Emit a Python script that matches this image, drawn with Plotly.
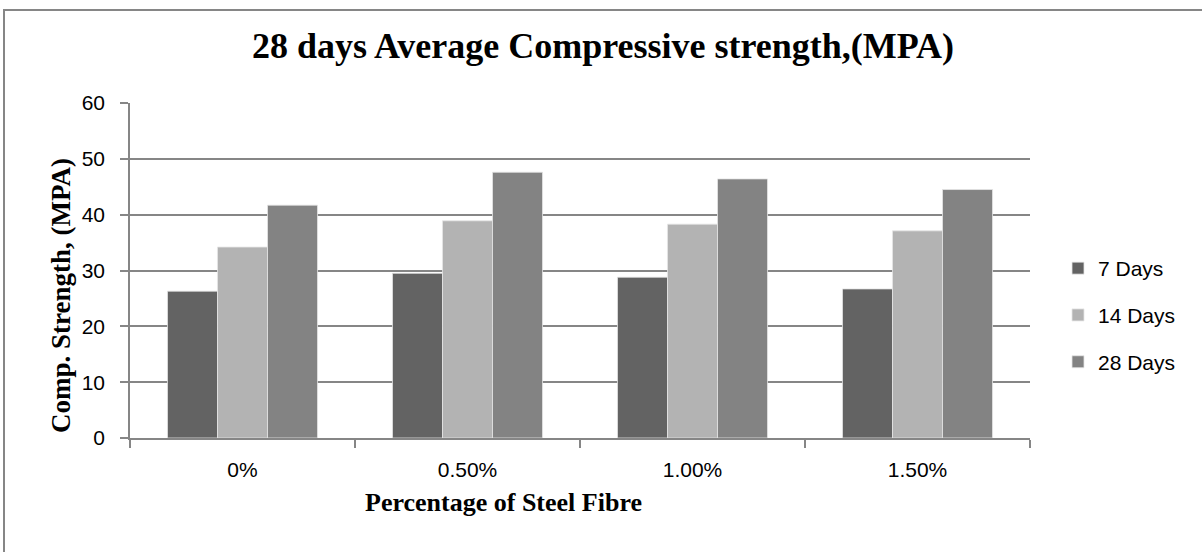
import plotly.graph_objects as go

categories = ["0%", "0.50%", "1.00%", "1.50%"]
series_names = ["7 Days", "14 Days", "28 Days"]
days7 = [26.3, 29.5, 28.8, 26.7]
days14 = [34.2, 38.9, 38.3, 37.1]
days28 = [41.7, 47.6, 46.4, 44.5]
colors = ["#636363", "#b3b3b3", "#838383"]

y_ticks = [0, 10, 20, 30, 40, 50, 60]

title_text = "28 days Average Compressive strength,(MPA)"
x_title = "Percentage of Steel Fibre"
y_title = "Comp. Strength, (MPA)"

SERIF = "Liberation Serif, Times New Roman, serif"
SANS = "Liberation Sans, Arial, sans-serif"

fig = go.Figure()
for name, vals, col in zip(series_names, [days7, days14, days28], colors):
    fig.add_trace(go.Bar(
        x=categories, y=vals, name=name, legendgroup=name,
        marker=dict(color=col, line=dict(color="#e6e6e6", width=0.8)),
    ))

W, H = 1202, 552
L, R, T, B = 130, 172, 103, 114
pw = W - L - R
ph = H - T - B

def px_x(px):
    return (px - L) / pw

def px_y(py):
    return (H - B - py) / ph

fig.update_layout(
    width=W, height=H,
    margin=dict(l=L, r=R, t=T, b=B),
    paper_bgcolor="white", plot_bgcolor="white",
    barmode="group", bargap=0.333, bargroupgap=0,
    title=dict(text=title_text, x=603 / W, xanchor="center",
               y=1 - 45 / H, yanchor="middle", yref="container",
               font=dict(family=SERIF, size=36, color="black", weight="bold")),
    xaxis=dict(
        showline=True, linecolor="#868686", linewidth=1.5,
        ticks="outside", ticklen=8, tickcolor="#868686", tickwidth=1.5,
        tickson="boundaries", showgrid=False,
        tickfont=dict(family=SANS, size=21, color="black"),
        ticklabelstandoff=12,
    ),
    yaxis=dict(
        range=[0, 60], tickvals=y_ticks,
        showline=True, linecolor="#868686", linewidth=1.5,
        ticks="outside", ticklen=8, tickcolor="#868686", tickwidth=1.5,
        showgrid=True, gridcolor="#868686", gridwidth=1.5,
        zeroline=False,
        tickfont=dict(family=SANS, size=21, color="black"),
        ticklabelstandoff=11,
    ),
    legend=dict(
        x=px_x(1058), y=px_y(248), xanchor="left", yanchor="top",
        font=dict(family=SANS, size=21, color="black"),
        tracegroupgap=16.5, traceorder="grouped",
        bgcolor="rgba(0,0,0,0)",
    ),
    showlegend=True,
)

fig.add_annotation(
    text="<b>" + x_title + "</b>", xref="paper", yref="paper",
    x=px_x(503), y=px_y(503), xanchor="center", yanchor="middle",
    showarrow=False, font=dict(family=SERIF, size=26, color="black"),
)
fig.add_annotation(
    text="<b>" + y_title + "</b>", xref="paper", yref="paper",
    x=px_x(61), y=px_y(296), xanchor="center", yanchor="middle",
    textangle=-90, showarrow=False,
    font=dict(family=SERIF, size=27, color="black"),
)

fig.add_shape(
    type="rect", xref="paper", yref="paper",
    x0=px_x(4), x1=px_x(1215), y0=px_y(570), y1=px_y(10),
    line=dict(color="#868686", width=2), fillcolor="rgba(0,0,0,0)",
    layer="below",
)

fig.write_html("out.html", config={"displayModeBar": False},
               post_script="document.body.style.margin='0';")
